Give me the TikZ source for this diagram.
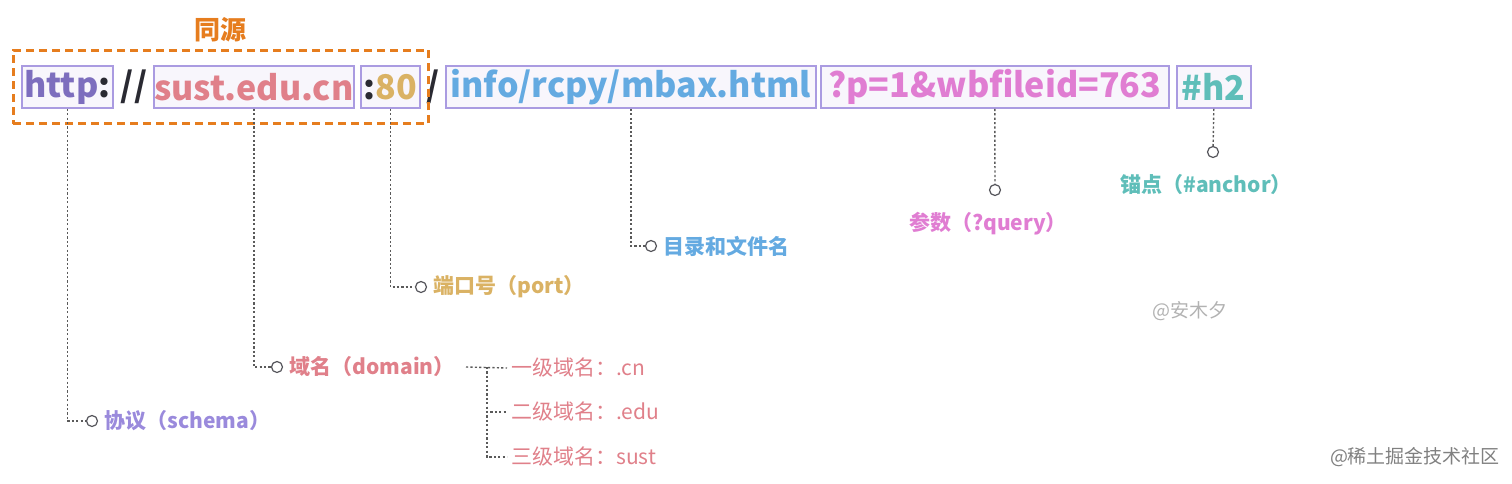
\documentclass[tikz,border=0pt]{standalone}
\usepackage{fontspec}
\setmainfont{Noto Sans CJK SC}
\usetikzlibrary{positioning,fit}

\definecolor{boxline}{HTML}{AA9BE1}
\definecolor{boxfill}{HTML}{F8F6FC}
\definecolor{ink}{HTML}{2A2A32}
\definecolor{linkgray}{HTML}{5A5A5A}
\definecolor{origincol}{HTML}{E67D1E}
\definecolor{schemacol}{HTML}{7D6EBE}
\definecolor{schemalab}{HTML}{9A8ADC}
\definecolor{domaincol}{HTML}{E0808A}
\definecolor{portcol}{HTML}{DAB264}
\definecolor{pathcol}{HTML}{64AAE1}
\definecolor{querycol}{HTML}{E07DD2}
\definecolor{anchorcol}{HTML}{5FBEB9}

\begin{document}
\begin{tikzpicture}[x=0.5pt,y=-0.5pt,
    urlbox/.style={draw=boxline,fill=boxfill,line width=0.8pt,minimum height=21pt,
      inner sep=0pt,anchor=west,font=\fontsize{17}{17}\selectfont\bfseries},
    slash/.style={inner sep=0pt,text=ink,font=\fontsize{17}{17}\selectfont\bfseries},
    origin/.style={draw=origincol,line width=1.5pt,dash pattern=on 4pt off 2.5pt},
    dot/.style={circle,draw=ink!80,fill=white,line width=0.6pt,inner sep=0pt,minimum size=5.5pt},
    link/.style={draw=linkgray,line width=0.7pt,dash pattern=on 1.1pt off 1.1pt},
    tag/.style={inner sep=2pt,font=\fontsize{10.5}{12}\selectfont\bfseries},
    sub/.style={anchor=west,inner sep=2pt,text=domaincol,font=\fontsize{10.5}{12}\selectfont},
    watermark/.style={inner sep=0pt,font=\fontsize{9.5}{11}\selectfont}]
  \useasboundingbox (0,0) rectangle (1512,483);

  \node[urlbox,minimum width=45.5pt] (http) at (21,87) {\textcolor{schemacol}{http}\textcolor{ink}{:}};
  \node[slash] (sep1) at (134,87) {//};
  \node[urlbox,minimum width=100pt,text=domaincol] (host) at (153,87) {sust.edu.cn};
  \node[urlbox,minimum width=29.5pt] (port) at (360,87) {\textcolor{ink}{:}\textcolor{portcol}{80}};
  \node[slash] (sep2) at (433,87) {/};
  \node[urlbox,minimum width=185pt,text=pathcol] (path) at (445,87) {info/rcpy/mbax.html};
  \node[urlbox,minimum width=174pt,text=querycol] (query) at (820,87) {?p=1\&wbfileid=763};
  \node[urlbox,minimum width=37pt,text=anchorcol] (hash) at (1176,87) {\#h2};

  \node[origin,inner xsep=4pt,inner ysep=7.5pt,fit=(http)(port)] (sameorigin) {};
  \node[tag,text=origincol,font=\fontsize{13}{14}\selectfont\bfseries,above=1pt of sameorigin] (originlabel) {同源};

  \node[dot] (schemadot) at (92,421) {};
  \node[tag,text=schemalab,right=1pt of schemadot] (schemalabel) {协议（schema）};
  \node[dot] (hostdot) at (277,367) {};
  \node[tag,text=domaincol,right=1pt of hostdot] (hostlabel) {域名（domain）};
  \node[dot] (portdot) at (421,287) {};
  \node[tag,text=portcol,right=1pt of portdot] (portlabel) {端口号（port）};
  \node[dot] (pathdot) at (651,246) {};
  \node[tag,text=pathcol,right=1pt of pathdot] (pathlabel) {目录和文件名};
  \node[dot] (querydot) at (995,190) {};
  \node[tag,text=querycol,below=6pt of querydot,xshift=-3.5pt] (querylabel) {参数（?query）};
  \node[dot] (hashdot) at (1213,152) {};
  \node[tag,text=anchorcol,below=6pt of hashdot,xshift=-3.5pt] (hashlabel) {锚点（\#anchor）};

  \draw[link] (http.south) |- (schemadot);
  \draw[link] (host.south) |- (hostdot);
  \draw[link] (port.south) |- (portdot);
  \draw[link] (path.south) |- (pathdot);
  \draw[link] (query.south) -- (querydot);
  \draw[link] (hash.south) -- (hashdot);

  \node[sub] (level1) at (507,368) {一级域名：.cn};
  \node[sub] (level2) at (507,412) {二级域名：.edu};
  \node[sub] (level3) at (507,457) {三级域名：sust};
  \coordinate (fork) at (487,367);
  \coordinate (forkstart) at (466,367);
  \draw[link] (forkstart) -- (level1.west);
  \draw[link] (fork) |- (level2.west);
  \draw[link] (fork) |- (level3.west);

  \node[watermark,text=black!30] (author) at (1190,311) {@安木夕};
  \node[watermark,text=black!50] (site) at (1415,457) {@稀土掘金技术社区};
\end{tikzpicture}
\end{document}
